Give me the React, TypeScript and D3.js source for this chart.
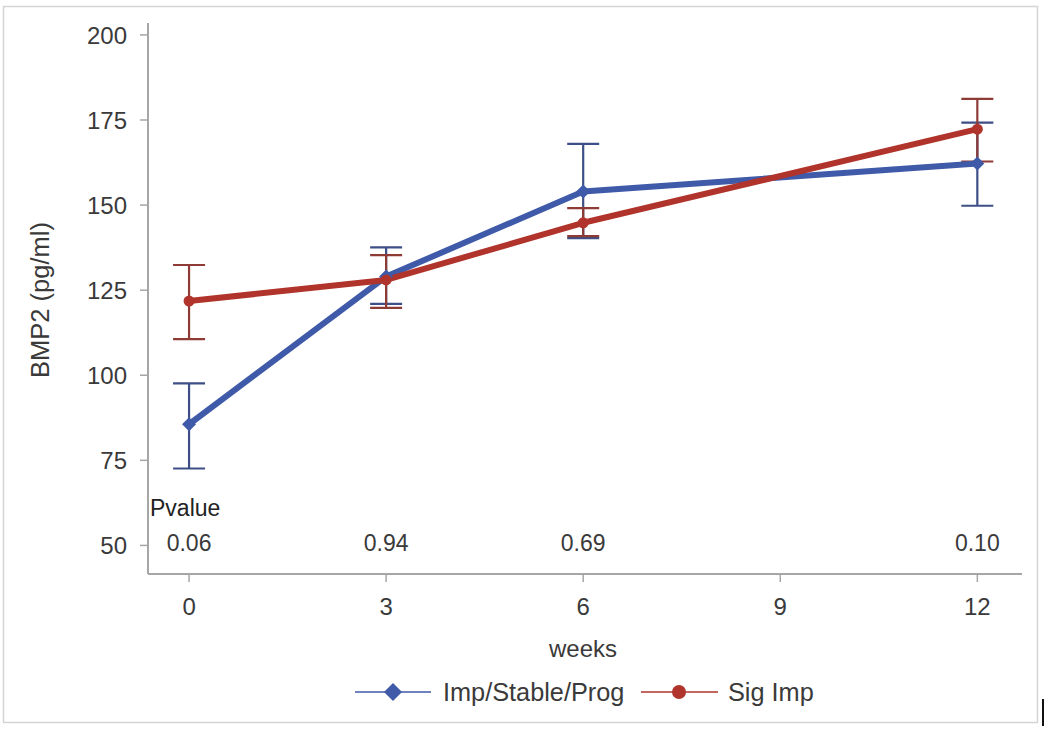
import React from "react";
import * as d3 from "d3";

const weeks = [0, 3, 6, 12];
const xTicks = [0, 3, 6, 9, 12];
const yTicks = [50, 75, 100, 125, 150, 175, 200];

const blueMean = [85.6, 129, 154, 162.2];
const blueLow = [72.6, 121, 140.3, 149.8];
const blueHigh = [97.6, 137.6, 168, 174.2];

const redMean = [121.8, 128, 144.8, 172.3];
const redLow = [110.6, 119.8, 140.9, 162.8];
const redHigh = [132.4, 135.3, 149.1, 181.2];

const pWeeks = [0, 3, 6, 12];
const pValues = ["0.06", "0.94", "0.69", "0.10"];

const seriesNames = ["Imp/Stable/Prog", "Sig Imp"];
const BLUE = "#3f5aa8";
const RED = "#b0342b";
const BLUE_ERR = "#3d4f86";
const RED_ERR = "#8e3b36";

export default function App() {
  const W = 1050, H = 729;
  const x = d3.scaleLinear().domain([-0.625, 12.68]).range([148, 1022]);
  const y = d3.scaleLinear().domain([41.6, 203.5]).range([574, 23]);
  const line = d3.line<number>().x((_, i) => x(weeks[i])).y((d) => y(d));
  const font = "'Liberation Sans', Arial, sans-serif";
  const textCol = "#3a3a3a";
  const axisCol = "#a6a6a6";

  const errBars = (lo: number[], hi: number[], col: string, key: string) =>
    weeks.map((w, i) => (
      <g key={key + i} stroke={col} strokeWidth={2.2}>
        <line x1={x(w)} x2={x(w)} y1={y(lo[i])} y2={y(hi[i])} />
        <line x1={x(w) - 16} x2={x(w) + 16} y1={y(lo[i])} y2={y(lo[i])} />
        <line x1={x(w) - 16} x2={x(w) + 16} y1={y(hi[i])} y2={y(hi[i])} />
      </g>
    ));

  const diamond = (cx: number, cy: number, r: number, col: string, key: string) => (
    <path key={key} d={`M${cx},${cy - r}L${cx + r},${cy}L${cx},${cy + r}L${cx - r},${cy}Z`} fill={col} />
  );

  return (
    <svg width={W} height={H} style={{ position: "absolute", left: 0, top: 0, background: "#fff" }} fontFamily={font}>
      <rect x={3.5} y={6.5} width={1034} height={716} fill="none" stroke="#d4d4d4" strokeWidth={1.5} />
      <line x1={1043} x2={1043} y1={699} y2={726} stroke="#111" strokeWidth={2} />

      {/* axes */}
      <line x1={x.range()[0]} x2={x.range()[0]} y1={y.range()[1]} y2={y.range()[0]} stroke={axisCol} strokeWidth={2} />
      <line x1={x.range()[0]} x2={x.range()[1]} y1={y.range()[0]} y2={y.range()[0]} stroke={axisCol} strokeWidth={2} />
      {yTicks.map((t) => (
        <g key={"y" + t}>
          <line x1={x.range()[0] - 8} x2={x.range()[0]} y1={y(t)} y2={y(t)} stroke={axisCol} strokeWidth={1.5} />
          <text x={127} y={y(t)} dy="0.36em" textAnchor="end" fontSize={24} fill={textCol}>{t}</text>
        </g>
      ))}
      {xTicks.map((t) => (
        <g key={"x" + t}>
          <line x1={x(t)} x2={x(t)} y1={y.range()[0]} y2={y.range()[0] + 8} stroke={axisCol} strokeWidth={1.5} />
          <text x={x(t)} y={615} textAnchor="middle" fontSize={24} fill={textCol}>{t}</text>
        </g>
      ))}
      <text x={583} y={657} textAnchor="middle" fontSize={24} fill={textCol}>weeks</text>
      <text transform={`translate(49,300) rotate(-90)`} textAnchor="middle" fontSize={25.5} fill={textCol}>BMP2 (pg/ml)</text>

      {/* p values */}
      <text x={150} y={516} fontSize={23} fill="#222">Pvalue</text>
      {pWeeks.map((w, i) => (
        <text key={"p" + i} x={x(w)} y={551} textAnchor="middle" fontSize={23} fill={textCol}>{pValues[i]}</text>
      ))}

      {/* error bars */}
      {errBars(blueLow, blueHigh, BLUE_ERR, "be")}
      {errBars(redLow, redHigh, RED_ERR, "re")}

      {/* lines */}
      <path d={line(blueMean) || ""} fill="none" stroke={BLUE} strokeWidth={6} strokeLinejoin="round" />
      <path d={line(redMean) || ""} fill="none" stroke={RED} strokeWidth={6} strokeLinejoin="round" />
      {weeks.map((w, i) => diamond(x(w), y(blueMean[i]), 7, BLUE, "bd" + i))}
      {weeks.map((w, i) => (
        <circle key={"rc" + i} cx={x(w)} cy={y(redMean[i])} r={5.5} fill={RED} />
      ))}

      {/* legend */}
      <line x1={355} x2={431} y1={692} y2={692} stroke={BLUE} strokeWidth={1.5} />
      {diamond(393, 692, 9, BLUE, "ld")}
      <text x={443} y={701} fontSize={25.3} fill={textCol}>{seriesNames[0]}</text>
      <line x1={641} x2={718} y1={692} y2={692} stroke={RED} strokeWidth={1.5} />
      <circle cx={679} cy={692} r={7} fill={RED} />
      <text x={728} y={701} fontSize={25.3} fill={textCol}>{seriesNames[1]}</text>
    </svg>
  );
}
